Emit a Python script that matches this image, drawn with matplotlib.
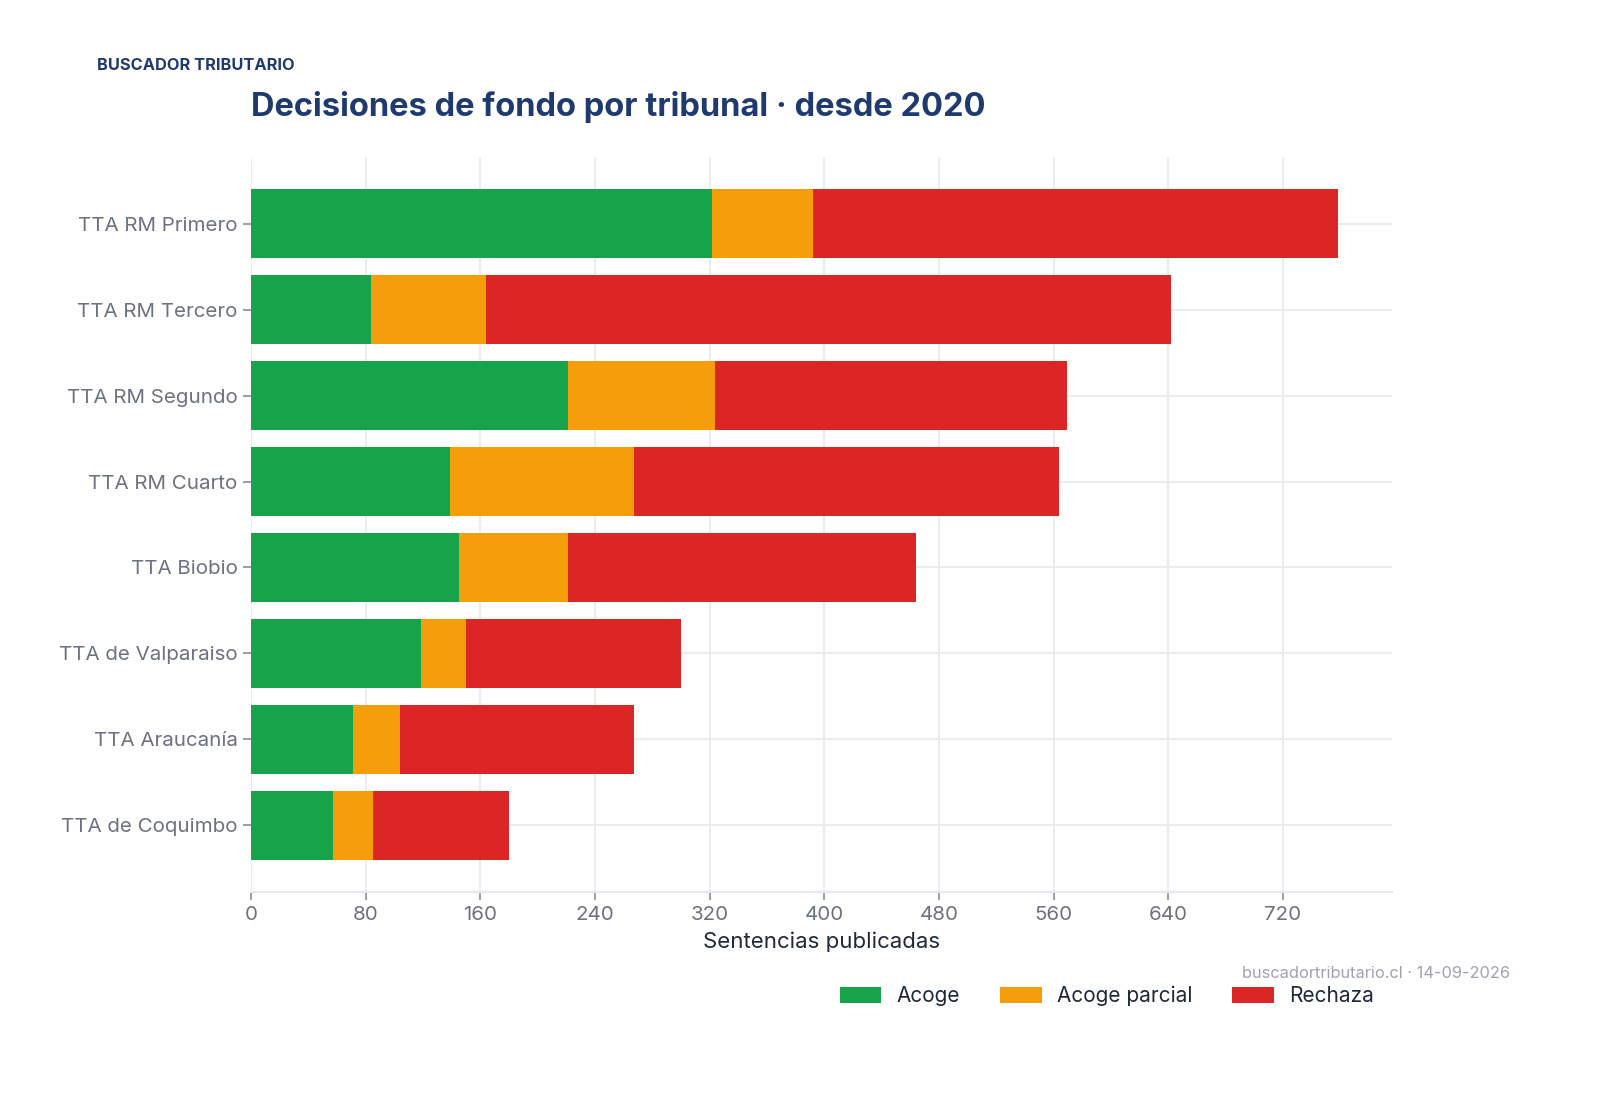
import matplotlib
matplotlib.use('Agg')
import matplotlib.pyplot as plt
import numpy as np

plt.rcParams['font.family'] = ['Inter', 'DejaVu Sans']

tribunales = ['TTA RM Primero', 'TTA RM Tercero', 'TTA RM Segundo', 'TTA RM Cuarto',
              'TTA Biobio', 'TTA de Valparaiso', 'TTA Araucanía', 'TTA de Coquimbo']
acoge = [322, 84, 221, 139, 145, 119, 71, 57]
acoge_parcial = [70, 80, 103, 128, 76, 31, 33, 28]
rechaza = [366, 478, 245, 297, 243, 150, 163, 95]

series = [('Acoge', acoge, '#16a34a'),
          ('Acoge parcial', acoge_parcial, '#f59e0b'),
          ('Rechaza', rechaza, '#dc2626')]

grid_c = '#ebebf0'
tick_c = '#6b7280'
navy = '#1e3a6e'

fig = plt.figure(figsize=(15.98, 10.95), dpi=100)
ax = fig.add_axes([0.157, 0.185, 0.714, 0.672])

y = np.arange(len(tribunales))
left = np.zeros(len(tribunales))
for name, vals, col in series:
    ax.barh(y, vals, left=left, height=0.8, color=col, label=name, zorder=3)
    left += np.array(vals)

ax.set_ylim(len(tribunales) - 1 + 0.78, -0.78)
ax.set_xlim(0, max(left) * 1.05)
ax.set_yticks(y)
ax.set_yticklabels(tribunales)
ax.set_xticks(np.arange(0, 800, 80))

ax.grid(True, color=grid_c, linewidth=1.5, zorder=0)
for s in ['top', 'right', 'left']:
    ax.spines[s].set_visible(False)
ax.spines['bottom'].set_color('#e5e7eb')
ax.spines['bottom'].set_linewidth(1.5)
ax.tick_params(axis='both', colors='#9ca3af', labelcolor=tick_c, labelsize=14.8,
               length=6, width=1.5)

ax.set_xlabel('Sentencias publicadas', fontsize=16, color='#1f2937', labelpad=6)

fig.text(97 / 1598, 1 - 65 / 1095, 'BUSCADOR TRIBUTARIO', fontsize=11.8,
         fontweight='bold', color=navy, va='center')
fig.text(251 / 1598, 1 - 107 / 1095, 'Decisiones de fondo por tribunal · desde 2020',
         fontsize=23.5, fontweight='bold', color=navy, va='center')
fig.text(1510 / 1598, 1 - 973 / 1095, 'buscadortributario.cl · 14-09-2026',
         fontsize=11.8, color='#9ca3af', ha='right', va='center')

fig.legend(loc='center', bbox_to_anchor=(1107 / 1598, 1 - 996 / 1095), ncol=3,
           frameon=False, fontsize=15, handlelength=2.0, handleheight=0.75,
           handletextpad=0.75, columnspacing=1.9, labelcolor='#1f2937')

fig.savefig('out.png', dpi=100, facecolor='white')
